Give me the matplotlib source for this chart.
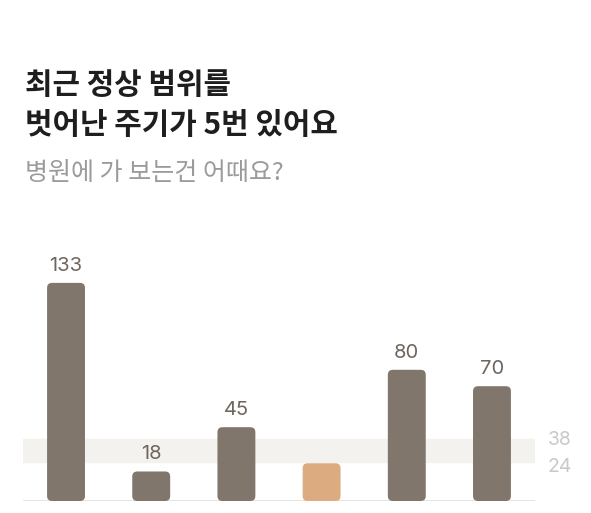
import numpy as np
import matplotlib.pyplot as plt
from matplotlib.patches import FancyBboxPatch

plt.rcParams['font.family'] = ['Noto Sans CJK KR', 'DejaVu Sans']

# data
cycles = ["1", "2", "3", "4", "5", "6"]
lengths = [133, 18, 45, 23, 80, 70]
show_label = [True, True, True, False, True, True]
highlight = [False, False, False, True, False, False]
normal_low, normal_high = 24, 38

title = "최근 정상 범위를\n벗어난 주기가 5번 있어요"
subtitle = "병원에 가 보는건 어때요?"

W, H = 591, 513
fig = plt.figure(figsize=(W / 100, H / 100), dpi=100)
ax = fig.add_axes([23 / W, 12 / H, 512 / W, 246 / H])
ax.set_xlim(-0.505, len(lengths) - 0.495)
ax.set_ylim(0, 150)
ax.axis('off')

# normal range band and baseline
ax.axhspan(normal_low, normal_high, color='#f4f2ee', zorder=0)
ax.axhline(0, color='#e2dfda', lw=1.2, zorder=1)

num_font = ['Inter', 'DejaVu Sans']

# rounded bars
bw = 0.445
px_x = 512 / (len(lengths) + 0.01)
px_y = 246 / 150
r = 5  # corner radius in px
for i, v in enumerate(lengths):
    col = '#dcab80' if highlight[i] else '#80766c'
    p = FancyBboxPatch((i - bw / 2, 0), bw, v,
                       boxstyle=f"round,pad=0,rounding_size={r / px_x:.4f}",
                       mutation_aspect=px_x / px_y,
                       fc=col, ec='none', zorder=2)
    ax.add_patch(p)
    if show_label[i]:
        ax.text(i, v + 10.5, str(v), ha='center', va='center', family=num_font,
                fontsize=14.5, color='#6f665e', zorder=3)

# range labels on the right
ax.text(1.025, normal_high - 1, str(normal_high), transform=ax.get_yaxis_transform(),
        ha='left', va='center', fontsize=14, family=num_font, color='#c9c9c9')
ax.text(1.025, normal_low - 3.5, str(normal_low), transform=ax.get_yaxis_transform(),
        ha='left', va='center', fontsize=14, family=num_font, color='#c9c9c9')

fig.text(25 / W, 1 - 105 / H, title, ha='left', va='center', fontsize=21.5,
         fontweight='bold', color='#1e1e1e', linespacing=1.38)
fig.text(25 / W, 1 - 173 / H, subtitle, ha='left', va='center', fontsize=18,
         color='#9b9b9b')

fig.savefig('out.png', dpi=100)
